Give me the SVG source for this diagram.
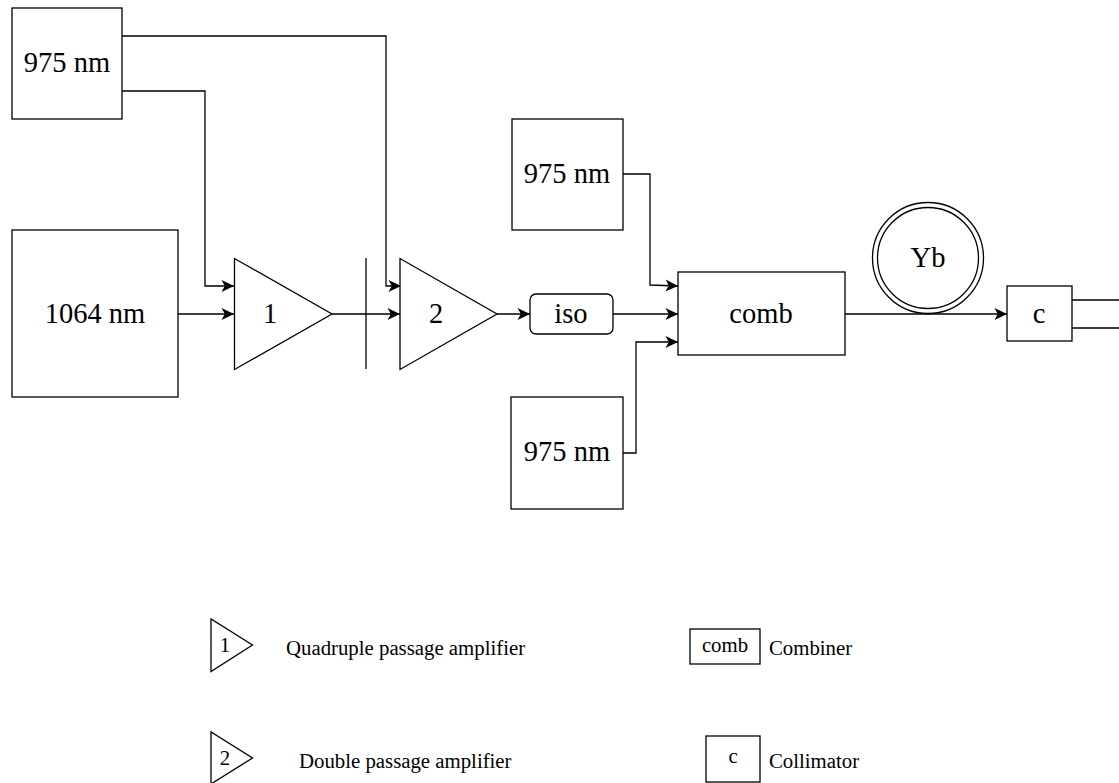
<svg xmlns="http://www.w3.org/2000/svg" width="1119" height="783" viewBox="0 0 1119 783">
<style>
.s{fill:#fff;stroke:#000;stroke-width:1.3}
.c{fill:none;stroke:#000;stroke-width:1.3}
text{font-family:"Liberation Serif","Times New Roman",serif;fill:#000;text-anchor:middle}
.l{font-size:28.500px}
.m{font-size:20.800px}
.t{font-size:20.800px;text-anchor:start}
</style>
<defs><marker id="a" markerUnits="userSpaceOnUse" markerWidth="14" markerHeight="14" refX="13" refY="7" orient="auto"><path d="M0.500 1L13 7L0.500 13L3.800 7Z" fill="#000"/></marker></defs>
<rect width="1119" height="783" fill="#fff"/>
<g id="connectors">
<path class="c" d="M122 36H386V286H401" marker-end="url(#a)"/>
<path class="c" d="M122 91H205V286H234" marker-end="url(#a)"/>
<path class="c" d="M178 314H234" marker-end="url(#a)"/>
<path class="c" d="M332 314H400" marker-end="url(#a)"/>
<path class="c" d="M497 314H530" marker-end="url(#a)"/>
<path class="c" d="M613 314H678" marker-end="url(#a)"/>
<path class="c" d="M623 174H650V285L678 286" marker-end="url(#a)"/>
<path class="c" d="M623 453H636V342H678" marker-end="url(#a)"/>
<path class="c" d="M845 314H1007" marker-end="url(#a)"/>
<path class="c" d="M1072 300H1119M1072 328H1119"/>
<path class="c" d="M366 258V369"/>
</g>
<g id="pump-top"><rect class="s" x="12" y="8" width="110" height="111"/><text class="l" x="67" y="72">975 nm</text></g>
<g id="seed"><rect class="s" x="12" y="230" width="166" height="167"/><text class="l" x="95" y="323">1064 nm</text></g>
<g id="amp-1"><path class="s" d="M234.500 258.500V369.500L332 314Z"/><text class="l" x="270" y="323">1</text></g>
<g id="amp-2"><path class="s" d="M400 258.500V369.500L497 314Z"/><text class="l" x="436" y="323">2</text></g>
<g id="iso"><rect class="s" x="530" y="294" width="83" height="40" rx="6"/><text class="l" x="571" y="323">iso</text></g>
<g id="pump-upper"><rect class="s" x="512" y="119" width="111" height="111"/><text class="l" x="567" y="183">975 nm</text></g>
<g id="pump-lower"><rect class="s" x="511" y="397" width="112" height="112"/><text class="l" x="567" y="461">975 nm</text></g>
<g id="comb"><rect class="s" x="678" y="272" width="167" height="83"/><text class="l" x="761" y="323">comb</text></g>
<g id="yb"><circle class="s" cx="928" cy="258" r="55.500"/><circle class="s" cx="928" cy="258" r="50.500"/><text class="l" x="928" y="267">Yb</text></g>
<g id="c"><rect class="s" x="1007" y="286" width="65" height="55"/><text class="l" x="1039" y="323">c</text></g>
<g id="legend-1"><path class="s" d="M211 619V671.500L252.500 645Z"/><text class="m" x="225" y="652">1</text><text class="t" x="286" y="655">Quadruple passage amplifier</text></g>
<g id="legend-2"><path class="s" d="M211 732V784L252.500 758Z"/><text class="m" x="225" y="765">2</text><text class="t" x="299" y="768">Double passage amplifier</text></g>
<g id="legend-comb"><rect class="s" x="690" y="629" width="70" height="35"/><text class="m" x="725" y="652">comb</text><text class="t" x="769" y="655">Combiner</text></g>
<g id="legend-c"><rect class="s" x="706" y="736" width="54" height="46"/><text class="m" x="733" y="763">c</text><text class="t" x="769" y="768">Collimator</text></g>
</svg>
